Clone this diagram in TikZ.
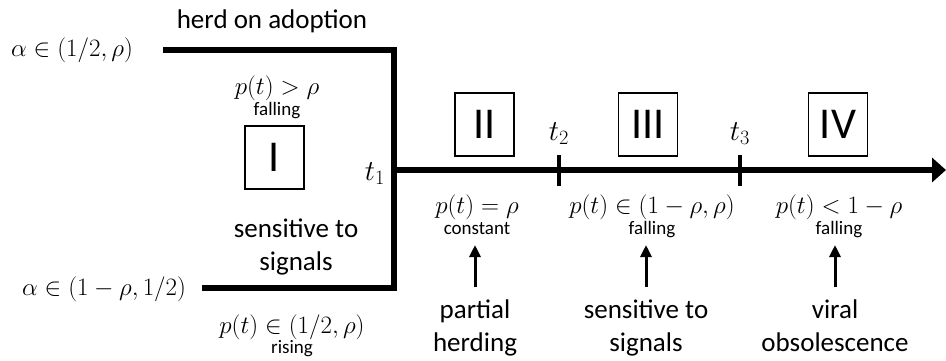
\RequirePackage{fix-cm}
\documentclass[tikz,border=0pt]{standalone}
\usepackage{fontspec}
\setmainfont{Carlito}
\usetikzlibrary{arrows.meta}

\begin{document}
\begin{tikzpicture}[x=1pt,y=-1pt]
  \tikzset{phaseline/.style={draw=black,line width=5.5pt}}
  \tikzset{tickmark/.style={draw=black,line width=4pt}}
  \tikzset{phasebox/.style={draw=black,line width=1.8pt,minimum width=59pt,minimum height=63pt,inner sep=0pt,font=\fontsize{44}{50}\selectfont}}
  \tikzset{bigtext/.style={anchor=base,inner sep=0pt,font=\fontsize{27}{33}\selectfont}}
  \tikzset{smalltext/.style={anchor=base,inner sep=0pt,font=\fontsize{19}{22}\selectfont}}
  \tikzset{mathtext/.style={anchor=base,inner sep=0pt,font=\fontsize{25}{29}\selectfont}}
  \tikzset{timetext/.style={anchor=base,inner sep=0pt,font=\fontsize{29}{33}\selectfont}}
  \tikzset{pointer/.style={draw=black,line width=3pt,-{Triangle[length=12pt,width=11pt]}}}
  \useasboundingbox (0,0) rectangle (946,360);
  % corners of the two branches and the time axis
  \coordinate (topL) at (163,50);
  \coordinate (topR) at (394,50);
  \coordinate (botL) at (202,288);
  \coordinate (botR) at (394,288);
  \coordinate (tone) at (394,170);
  \coordinate (axend) at (946,170);
  \coordinate (ttwoU) at (559,155);
  \coordinate (ttwoD) at (559,186);
  \coordinate (tthreeU) at (740,155);
  \coordinate (tthreeD) at (740,186);
  \draw[phaseline] (topL) -- (topR) -- (botR) -- (botL);
  \draw[phaseline,-{Triangle[length=14pt,width=24pt]}] (tone) -- (axend);
  \draw[tickmark] (ttwoU) -- (ttwoD);
  \draw[tickmark] (tthreeU) -- (tthreeD);
  % phase I
  \node[bigtext] (herd) at (272,28) {herd on adoption};
  \node[mathtext] (alphahi) at (72,56) {$\alpha\in(1/2,\rho)$};
  \node[mathtext] (alphalo) at (104,295) {$\alpha\in(1-\rho,1/2)$};
  \node[mathtext] (pI) at (277,94) {$p(t)>\rho$};
  \node[smalltext] (fallI) at (277,115) {falling};
  \node[phasebox] (boxI) at (274.5,157.5) {I};
  \node[timetext] (lblone) at (375,180) {$t_1$};
  \node[bigtext] (sensI) at (296,237) {sensitive to};
  \node[bigtext] (sigI) at (296,270) {signals};
  \node[mathtext] (pIlo) at (292,333) {$p(t)\in(1/2,\rho)$};
  \node[smalltext] (riseI) at (292,353) {rising};
  % phases II--IV
  \node[phasebox] (boxII) at (484.5,124.5) {II};
  \node[phasebox] (boxIII) at (648,124.5) {III};
  \node[phasebox] (boxIV) at (838,124.5) {IV};
  \node[timetext] (lbltwo) at (559,140) {$t_2$};
  \node[timetext] (lblthree) at (740,140) {$t_3$};
  \node[mathtext] (pII) at (477,213) {$p(t)=\rho$};
  \node[smalltext] (constII) at (477,234) {constant};
  \node[mathtext] (pIII) at (652,213) {$p(t)\in(1-\rho,\rho)$};
  \node[smalltext] (fallIII) at (652,234) {falling};
  \node[mathtext] (pIV) at (839,213) {$p(t)<1-\rho$};
  \node[smalltext] (fallIV) at (839,234) {falling};
  \node[bigtext] (partII) at (475,318) {partial};
  \node[bigtext] (herdII) at (475,351) {herding};
  \node[bigtext] (sensIII) at (646,318) {sensitive to};
  \node[bigtext] (sigIII) at (646,351) {signals};
  \node[bigtext] (viralIV) at (835,318) {viral};
  \node[bigtext] (obsIV) at (835,351) {obsolescence};
  \draw[pointer] ([yshift=12pt]partII.north) -- (partII.north |- 0,245);
  \draw[pointer] ([yshift=12pt]sensIII.north) -- (sensIII.north |- 0,245);
  \draw[pointer] ([yshift=12pt]viralIV.north) -- (viralIV.north |- 0,245);
\end{tikzpicture}
\end{document}
